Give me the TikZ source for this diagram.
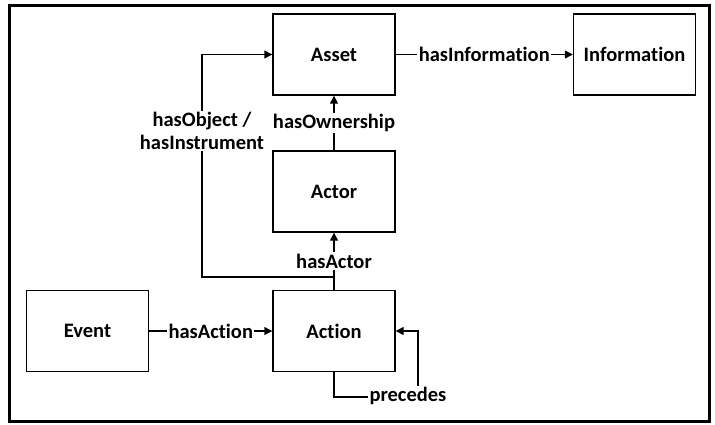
\documentclass[tikz,border=0pt]{standalone}
\usepackage{fontspec}
\setmainfont[Ligatures=NoCommon]{Carlito}
\usetikzlibrary{arrows.meta}
\tikzset{
  box/.style={draw, line width=1.4pt, minimum width=122pt, minimum height=81pt, inner sep=0pt, font=\fontsize{20.5}{23}\selectfont\bfseries},
  conn/.style={line width=1.4pt},
  arr/.style={conn, -{Triangle[length=8pt,width=8pt]}},
  lbl/.style={fill=white, inner sep=1.5pt, font=\fontsize{20.5}{23}\selectfont\bfseries, align=center},
}
\begin{document}
\begin{tikzpicture}[x=1pt,y=-1pt]
\useasboundingbox (0,0) rectangle (715,424);
\draw[line width=3pt] (9,5) rectangle (709,421);
\node[box] (Asset) at (334,54.5) {Asset};
\node[box] (Information) at (634.5,54.5) {Information};
\node[box] (Actor) at (334,191.5) {Actor};
\node[box] (Action) at (334,331) {Action};
\node[box] (Event) at (87.5,331) {Event};
\coordinate (j) at (334,277);
\coordinate (k) at (202,277);
\coordinate (pc) at (418,397);
\draw[arr] (Asset.east) -- node[lbl] {hasInformation} (Information.west);
\draw[arr] (Actor.north) -- node[lbl] {hasOwnership} (Asset.south);
\draw[arr] (Action.north) -- node[lbl] {hasActor} (Actor.south);
\draw[arr] (Event.east) -- node[lbl] {hasAction} (Action.west);
\draw[arr] (j) -- (k) |- (Asset.west);
\node[lbl] (objLbl) at (202,131) {hasObject /\\hasInstrument};
\draw[arr] (Action.south) |- (pc) -- (pc |- Action.east) -- (Action.east);
\node[lbl] (precLbl) at (408,396) {precedes};
\end{tikzpicture}
\end{document}
